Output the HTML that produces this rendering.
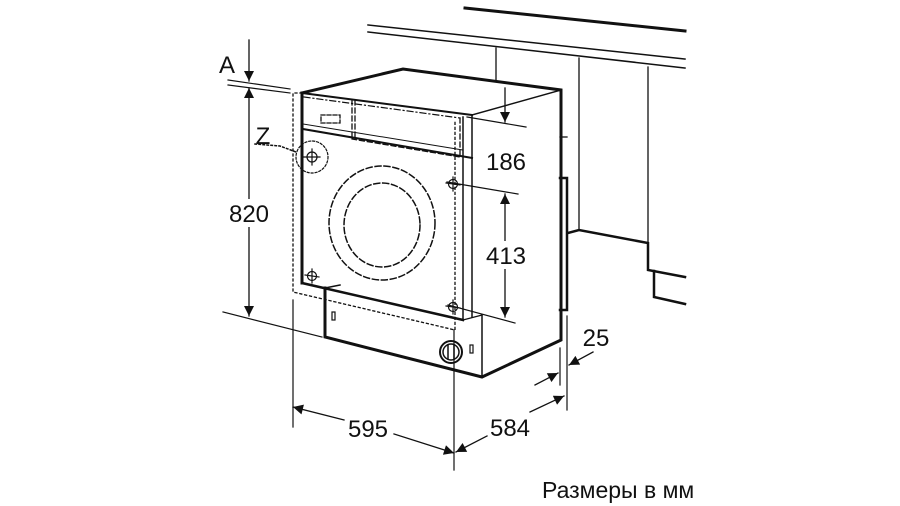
<!DOCTYPE html>
<html><head><meta charset="utf-8"><style>
html,body{margin:0;padding:0;background:#fff;}
svg{display:block;}
text{font-family:"Liberation Sans",sans-serif;fill:#111;}
</style></head><body>
<svg width="900" height="506" viewBox="0 0 900 506" xmlns="http://www.w3.org/2000/svg">
<defs>
<marker id="ar" viewBox="0 0 10 10" refX="10" refY="5" markerWidth="13" markerHeight="10" orient="auto-start-reverse" markerUnits="userSpaceOnUse">
<path d="M0,0 L10,5 L0,10 z" fill="#111"/></marker>
</defs>
<g stroke="#111" fill="none" stroke-linecap="square">
<line x1="465" y1="8" x2="685" y2="31" stroke-width="3"/>
<line x1="368" y1="25" x2="685" y2="59" stroke-width="1.5"/>
<line x1="368" y1="32" x2="685" y2="68" stroke-width="1.5"/>
<line x1="496" y1="48" x2="496" y2="80" stroke-width="1.3"/>
<line x1="579" y1="58" x2="579" y2="230" stroke-width="1.3"/>
<line x1="648" y1="67" x2="648" y2="243" stroke-width="1.3"/>
<polyline points="568,233 579,230 648,243 648,270 685,277" stroke-width="2.5"/>
<polyline points="654,271 654,297 685,304" stroke-width="2.5"/>
<polyline points="560,178 567,178 567,310 560,310" stroke-width="2.5"/>
<line x1="560" y1="137" x2="567" y2="137" stroke-width="1.3"/>
<polyline points="302,93 403,69 561,90 561,340 482,377 325,337 325,288" stroke-width="3"/>
<line x1="302" y1="93" x2="302" y2="283" stroke-width="3"/>
<line x1="302" y1="93" x2="472" y2="115" stroke-width="2"/>
<line x1="472" y1="115" x2="561" y2="90" stroke-width="1.5"/>
<line x1="472" y1="115" x2="472" y2="317" stroke-width="1.5"/>
<line x1="463" y1="117" x2="463" y2="320" stroke-width="1.5"/>
<line x1="302" y1="283" x2="463" y2="320" stroke-width="2.5"/>
<line x1="303" y1="129" x2="472" y2="158" stroke-width="2"/>
<line x1="303" y1="124" x2="463" y2="150" stroke-width="1"/>
<line x1="463" y1="320" x2="482" y2="315" stroke-width="1.3"/>
<line x1="482" y1="315" x2="482" y2="377" stroke-width="1.5"/>
<line x1="325" y1="288" x2="340" y2="285" stroke-width="1.5"/>
<polyline points="302,93 293,93 293,292 455,330 455,120" stroke-width="1.3" stroke-dasharray="2,3"/>
<line x1="304" y1="97" x2="460" y2="118" stroke-width="1.2" stroke-dasharray="6,3,1,3"/>
<polyline points="460,118 460,157 352,139" stroke-width="1.3" stroke-dasharray="5,3"/>
<line x1="352" y1="100" x2="352" y2="139" stroke-width="1.3" stroke-dasharray="5,3"/>
<line x1="355" y1="100" x2="355" y2="139" stroke-width="1.3" stroke-dasharray="5,3"/>
<rect x="321" y="115" width="19" height="8" stroke-width="1.3" stroke-dasharray="4,2"/>
<ellipse cx="382" cy="223" rx="53" ry="57" stroke-width="1.5" stroke-dasharray="6,3"/>
<ellipse cx="382" cy="225" rx="38" ry="42" stroke-width="1.5" stroke-dasharray="6,3"/>
<circle cx="312" cy="157" r="16" stroke-width="1.2" stroke-dasharray="2,2"/>
<polyline points="255,144 280,146 296,152" stroke-width="1.5" stroke-dasharray="1.5,2.5"/>
<g stroke-width="1.2">
<circle cx="312" cy="157" r="5"/><line x1="304" y1="157" x2="320" y2="157"/><line x1="312" y1="149" x2="312" y2="165"/>
<circle cx="453" cy="184" r="4.5"/><line x1="446" y1="183" x2="460" y2="185"/><line x1="453" y1="177" x2="453" y2="191"/>
<circle cx="312" cy="276" r="4.5"/><line x1="305" y1="275" x2="319" y2="277"/><line x1="312" y1="269" x2="312" y2="283"/>
<circle cx="453" cy="307" r="4.5"/><line x1="446" y1="306" x2="460" y2="308"/><line x1="453" y1="300" x2="453" y2="314"/>
</g>
<rect x="332" y="312" width="3" height="8" stroke-width="1.2"/>
<rect x="470" y="345" width="3" height="8" stroke-width="1.2"/>
<circle cx="451" cy="352" r="11" stroke-width="2"/>
<circle cx="451" cy="352" r="8" stroke-width="1.5"/>
<line x1="448" y1="345" x2="448" y2="359" stroke-width="1.5"/>
<line x1="454" y1="345" x2="454" y2="359" stroke-width="1.5"/>
<line x1="228" y1="80" x2="290" y2="89" stroke-width="1.2"/>
<line x1="228" y1="85" x2="290" y2="93" stroke-width="1.2"/>
<line x1="249" y1="40" x2="249" y2="81" stroke-width="1.3" marker-end="url(#ar)"/>
<line x1="249" y1="88" x2="249" y2="316" stroke-width="1.3" marker-start="url(#ar)" marker-end="url(#ar)"/>
<line x1="223" y1="312" x2="322" y2="337" stroke-width="1.2"/>
<line x1="505" y1="88" x2="505" y2="122" stroke-width="1.3" marker-end="url(#ar)"/>
<line x1="467" y1="117" x2="526" y2="127" stroke-width="1.2"/>
<line x1="447" y1="182" x2="518" y2="194" stroke-width="1.2"/>
<line x1="505" y1="194" x2="505" y2="317" stroke-width="1.3" marker-start="url(#ar)" marker-end="url(#ar)"/>
<line x1="448" y1="305" x2="515" y2="323" stroke-width="1.2"/>
<line x1="560" y1="348" x2="560" y2="385" stroke-width="1.2"/>
<line x1="567" y1="316" x2="567" y2="410" stroke-width="1.2"/>
<line x1="593" y1="352" x2="569" y2="365" stroke-width="1.3" marker-end="url(#ar)"/>
<line x1="535" y1="385" x2="558" y2="373" stroke-width="1.3" marker-end="url(#ar)"/>
<line x1="293" y1="300" x2="293" y2="427" stroke-width="1.2"/>
<line x1="454" y1="330" x2="454" y2="470" stroke-width="1.2"/>
<line x1="293" y1="407" x2="344" y2="420" stroke-width="1.3" marker-start="url(#ar)"/>
<line x1="394" y1="434" x2="454" y2="453" stroke-width="1.3" marker-end="url(#ar)"/>
<line x1="456" y1="452" x2="487" y2="436" stroke-width="1.3" marker-start="url(#ar)"/>
<line x1="530" y1="412" x2="564" y2="396" stroke-width="1.3" marker-end="url(#ar)"/>
</g>
<rect x="226" y="199" width="46" height="28" fill="#fff"/>
<rect x="482" y="241" width="48" height="28" fill="#fff"/>
<g font-size="24" text-anchor="middle">
<text x="227" y="73">A</text>
<text x="263" y="144">Z</text>
<text x="249" y="222">820</text>
<text x="506" y="170">186</text>
<text x="506" y="264">413</text>
<text x="596" y="346">25</text>
<text x="368" y="437">595</text>
<text x="510" y="436">584</text>
</g>
<text x="542" y="498" font-size="23">Размеры в мм</text>
</svg>
</body></html>
